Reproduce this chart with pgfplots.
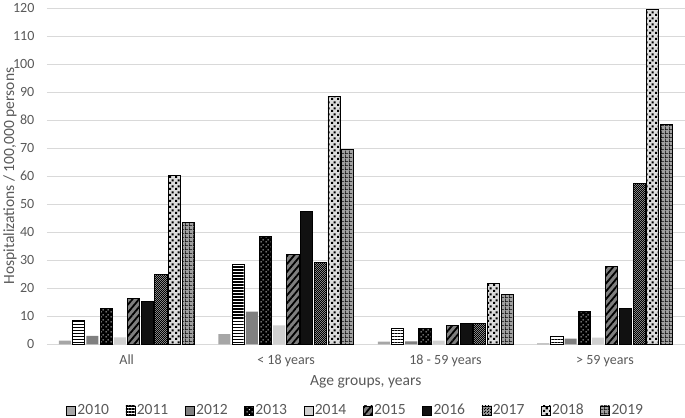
\documentclass[border=0pt]{standalone}
\usepackage{fontspec}
\setmainfont{Carlito}
\usepackage{pgfplots}
\pgfplotsset{compat=1.18}
\usetikzlibrary{patterns,patterns.meta}

\definecolor{gridgray}{HTML}{D9D9D9}
\definecolor{labgray}{HTML}{595959}
\definecolor{c2010}{HTML}{A6A6A6}
\definecolor{c2012}{HTML}{808080}
\definecolor{c2014}{HTML}{D0D0D0}
\definecolor{c2015}{HTML}{7F7F7F}
\definecolor{c2016}{HTML}{111111}
\definecolor{c2017}{HTML}{9A9A9A}
\definecolor{c2018}{HTML}{DCDCDC}
\definecolor{c2019}{HTML}{A0A0A0}

% staggered small dots
\tikzdeclarepattern{
  name=sdots, type=uncolored,
  bounding box={(0,0) and (5bp,5bp)}, tile size={(5bp,5bp)},
  code={\fill (0.6bp,0.6bp) rectangle (1.9bp,1.9bp);
        \fill (3.1bp,3.1bp) rectangle (4.4bp,4.4bp);}
}
% fine checkerboard
\tikzdeclarepattern{
  name=finecheck, type=uncolored,
  bounding box={(0,0) and (2.4bp,2.4bp)}, tile size={(2.4bp,2.4bp)},
  code={\fill (0,0) rectangle (1.2bp,1.2bp);
        \fill (1.2bp,1.2bp) rectangle (2.4bp,2.4bp);}
}
% large staggered squares
\tikzdeclarepattern{
  name=bigsq, type=uncolored,
  bounding box={(0,0) and (6bp,6bp)}, tile size={(6bp,6bp)},
  code={\fill (0,0) rectangle (2.4bp,2.4bp);
        \fill (3bp,3bp) rectangle (5.4bp,5.4bp);}
}
% square grid
\tikzdeclarepattern{
  name=gridsq, type=uncolored,
  bounding box={(0,0) and (4bp,4bp)}, tile size={(4bp,4bp)},
  code={\fill (0,0) rectangle (4bp,0.8bp);
        \fill (0,0) rectangle (0.8bp,4bp);}
}

\begin{document}
\begin{tikzpicture}
\begin{axis}[
  scale only axis,
  width=633bp, height=334bp,
  ybar=1.6bp, bar width=12bp,
  xmin=-0.5, xmax=3.5, ymin=0, ymax=120,
  xtick={0,1,2,3},
  xticklabels={All,{< 18 years},{18 - 59 years},{> 59 years}},
  ytick distance=10,
  ymajorgrids,
  grid style={draw=gridgray, line width=0.8bp},
  axis x line*=bottom, axis y line*=left,
  x axis line style={draw=gridgray, line width=0.8bp, -},
  y axis line style={draw=none},
  major tick length=0pt,
  /pgf/number format/assume math mode=true,
  tick label style={font=\fontsize{14}{16}\selectfont, text=labgray},
  yticklabel style={xshift=-9bp},
  xticklabel style={yshift=-7bp},
  xlabel={Age groups, years},
  ylabel={Hospitalizations / 100,000 persons},
  label style={font=\fontsize{15.5}{18}\selectfont, text=labgray},
  xlabel style={at={(axis description cs:0.5,-0.111)}, anchor=center},
  ylabel style={at={(axis description cs:-0.058,0.5)}, anchor=center},
  legend columns=10,
  legend image code/.code={\draw[#1, line width=0.6bp] (0bp,-4.5bp) rectangle (9bp,4.5bp);},
  legend style={at={(axis description cs:0.030,-0.196)}, anchor=west,
    draw=none, fill=none, inner sep=0pt,
    font=\fontsize{15.5}{17}\selectfont, text=labgray,
    nodes={inner sep=1.5bp},
    /tikz/every even column/.append style={column sep=15bp}},
]
\addplot[fill=c2010, draw=none]
  coordinates {(0,1.3) (1,3.7) (2,1.0) (3,0.4)};
\addplot[fill=white, draw=black, line width=0.9bp, postaction={pattern={Lines[angle=0,distance=3bp,line width=1.4bp]}, pattern color=black}]
  coordinates {(0,8.7) (1,28.5) (2,5.6) (3,2.9)};
\addplot[fill=c2012, draw=none]
  coordinates {(0,3.0) (1,11.7) (2,1.1) (3,2.1)};
\addplot[fill=black, draw=black, line width=0.9bp, postaction={pattern=sdots, pattern color=white}]
  coordinates {(0,12.7) (1,38.5) (2,5.8) (3,11.7)};
\addplot[fill=c2014, draw=none]
  coordinates {(0,2.5) (1,6.8) (2,1.3) (3,2.4)};
\addplot[fill=c2015, draw=black, line width=0.9bp, postaction={pattern={Lines[angle=50,distance=5bp,line width=1.8bp]}, pattern color=black}]
  coordinates {(0,16.5) (1,32.0) (2,6.7) (3,27.9)};
\addplot[fill=c2016, draw=black, line width=0.9bp]
  coordinates {(0,15.4) (1,47.5) (2,7.3) (3,12.9)};
\addplot[fill=c2017, draw=black, line width=0.9bp, postaction={pattern=finecheck, pattern color=black}]
  coordinates {(0,25.0) (1,29.2) (2,7.6) (3,57.4)};
\addplot[fill=c2018, draw=black, line width=0.9bp, postaction={pattern=bigsq, pattern color=black}]
  coordinates {(0,60.1) (1,88.5) (2,21.8) (3,119.3)};
\addplot[fill=c2019, draw=black, line width=0.9bp, postaction={pattern=gridsq, pattern color=black}]
  coordinates {(0,43.6) (1,69.5) (2,17.7) (3,78.3)};
\legend{2010,2011,2012,2013,2014,2015,2016,2017,2018,2019}
\end{axis}
\end{tikzpicture}
\end{document}
